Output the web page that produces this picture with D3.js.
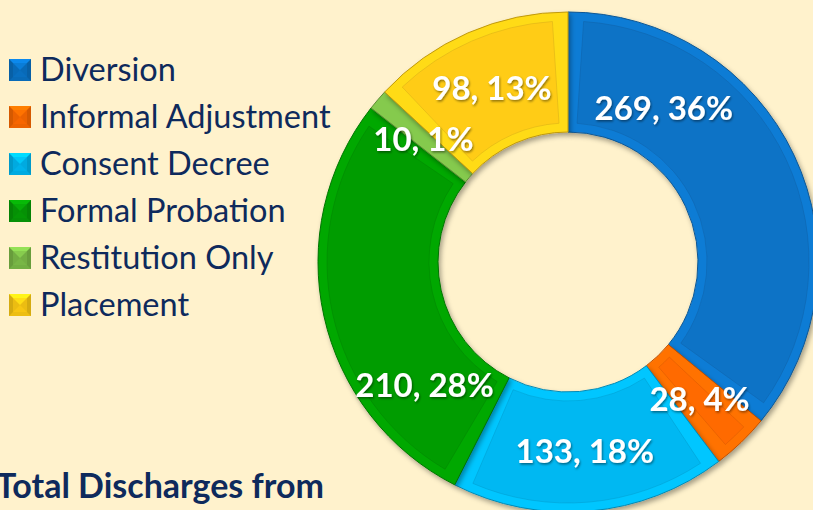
<!DOCTYPE html>
<html>
<head>
<meta charset="utf-8">
<script src="https://cdn.jsdelivr.net/npm/d3@7"></script>
<style>
  html, body { margin: 0; padding: 0; background: #fff2cc; overflow: hidden; }
  svg { display: block; }
</style>
</head>
<body>
<div id="canvas"></div>
<script>
const categories = ['Diversion', 'Informal Adjustment', 'Consent Decree', 'Formal Probation', 'Restitution Only', 'Placement'];
const counts = [269, 28, 133, 210, 10, 98];
const percents = ['36%', '4%', '18%', '28%', '1%', '13%'];
const colors = ['#0a73c6', '#ff6a00', '#00b8f2', '#069c06', '#7cbc48', '#ffcc14'];
const titleText = 'Total Discharges from';

const w = 813;
const h = 510;
const cx = 568;
const cy = 262;
const outerR = 250;
const innerR = 130;
const bevel = 9;

// labels that Excel moved away from the centroid
const labelNudge = { 0: [-76, -73], 3: [42, 82] };

const svg = d3.select('#canvas')
  .append('svg')
  .attr('width', w)
  .attr('height', h);

const defs = svg.append('defs');
const shadow = defs.append('filter').attr('id', 'shadow')
  .attr('x', '-10%').attr('y', '-10%').attr('width', '130%').attr('height', '130%');
shadow.append('feDropShadow')
  .attr('dx', 2).attr('dy', 3).attr('stdDeviation', 2.5)
  .attr('flood-color', '#000').attr('flood-opacity', 0.35);

const txtShadow = defs.append('filter').attr('id', 'txtshadow');
txtShadow.append('feDropShadow')
  .attr('dx', 1).attr('dy', 1.5).attr('stdDeviation', 1)
  .attr('flood-color', '#000').attr('flood-opacity', 0.45);

const pie = d3.pie().sort(null).value(d => d);
const arcs = pie(counts);

const arc = d3.arc().innerRadius(innerR).outerRadius(outerR);
const faceArc = d3.arc()
  .innerRadius(innerR + bevel)
  .outerRadius(outerR - bevel)
  .startAngle(d => d.startAngle + bevel / (innerR + bevel))
  .endAngle(d => d.endAngle - bevel / (innerR + bevel));
const labelArc = d3.arc().innerRadius(190).outerRadius(190);

const donut = svg.append('g')
  .attr('transform', 'translate(' + cx + ',' + cy + ')');

const slice = donut.selectAll('g.slice')
  .data(arcs)
  .enter()
  .append('g')
  .attr('class', 'slice')
  .attr('filter', 'url(#shadow)');

slice.append('path')
  .attr('d', arc)
  .attr('fill', (d, i) => d3.color(colors[i]).brighter(0.2))
  .attr('stroke', (d, i) => d3.color(colors[i]).darker(0.8))
  .attr('stroke-width', 1);

slice.append('path')
  .attr('d', d => (d.endAngle - d.startAngle) * (innerR + bevel) > 2.5 * bevel ? faceArc(d) : null)
  .attr('fill', (d, i) => colors[i])
  .attr('stroke', (d, i) => d3.color(colors[i]).darker(0.5))
  .attr('stroke-opacity', 0.6)
  .attr('stroke-width', 0.8);

donut.selectAll('text.lbl')
  .data(arcs)
  .enter()
  .append('text')
  .attr('class', 'lbl')
  .attr('transform', (d, i) => {
    const c = labelArc.centroid(d);
    const n = labelNudge[i] || [0, 0];
    return 'translate(' + (c[0] + n[0]) + ',' + (c[1] + n[1]) + ')';
  })
  .attr('text-anchor', 'middle')
  .attr('dy', '0.36em')
  .attr('filter', 'url(#txtshadow)')
  .style('font-family', 'Lato, "Open Sans", sans-serif')
  .style('font-weight', 'bold')
  .style('font-size', '33px')
  .style('fill', '#ffffff')
  .text((d, i) => counts[i] + ', ' + percents[i]);

// legend
const legend = svg.append('g')
  .attr('transform', 'translate(9, 70)');

const item = legend.selectAll('g.item')
  .data(categories)
  .enter()
  .append('g')
  .attr('class', 'item')
  .attr('transform', (d, i) => 'translate(0,' + (i * 47) + ')');

const s = 22;
item.append('rect')
  .attr('x', 0).attr('y', -s / 2)
  .attr('width', s).attr('height', s)
  .attr('fill', (d, i) => d3.color(colors[i]).darker(0.5));
item.append('path')
  .attr('d', 'M0,' + (-s / 2) + 'L' + s + ',' + (-s / 2) + 'L' + (s / 2) + ',0Z')
  .attr('fill', (d, i) => d3.color(colors[i]).brighter(0.5));
item.append('path')
  .attr('d', 'M0,' + (s / 2) + 'L' + s + ',' + (s / 2) + 'L' + (s / 2) + ',0Z')
  .attr('fill', (d, i) => d3.color(colors[i]).darker(0.2));
item.append('rect')
  .attr('x', 4).attr('y', -s / 2 + 4)
  .attr('width', s - 8).attr('height', s - 8)
  .attr('fill', (d, i) => colors[i])
  .attr('opacity', 0.55);

item.append('text')
  .attr('x', 31)
  .attr('dy', '0.35em')
  .style('font-family', 'Lato, "Open Sans", sans-serif')
  .style('font-size', '32.5px')
  .style('fill', '#0e2a5c')
  .text(d => d);

svg.append('text')
  .attr('x', -4)
  .attr('y', 498)
  .style('font-family', 'Lato, "Open Sans", sans-serif')
  .style('font-weight', 'bold')
  .style('font-size', '34px')
  .style('fill', '#0e2a5c')
  .text(titleText);
</script>
</body>
</html>
